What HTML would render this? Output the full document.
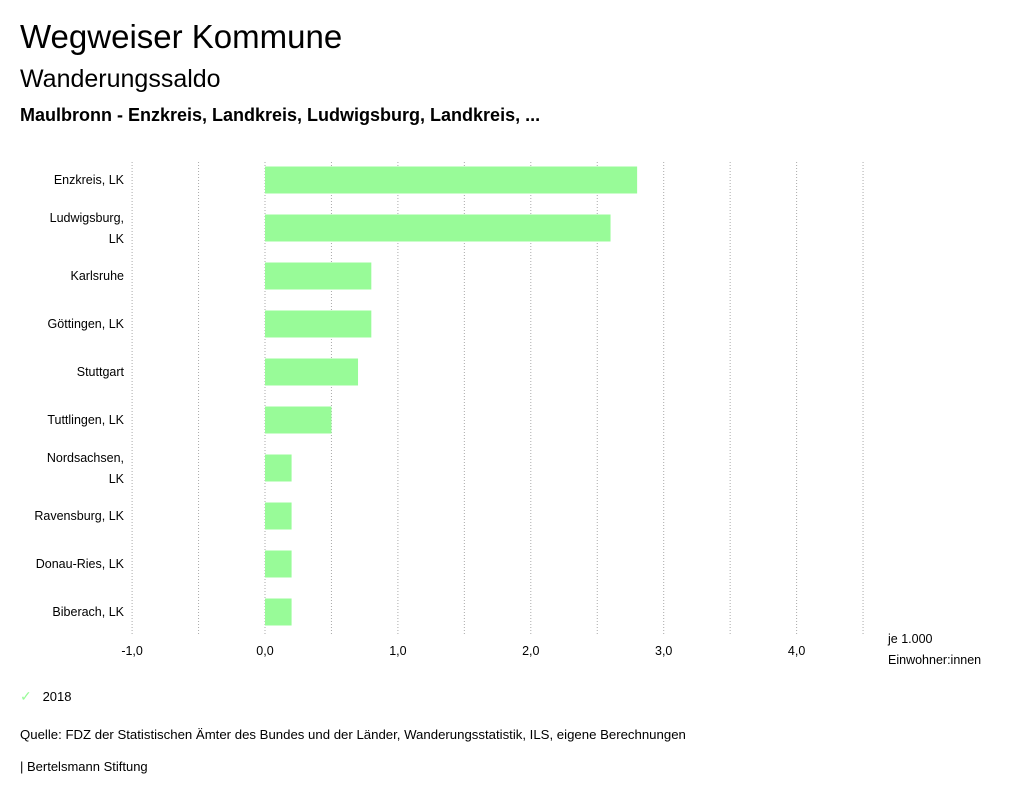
<!DOCTYPE html>
<html><head><meta charset="utf-8">
<style>
body{margin:0;background:#fff;font-family:"Liberation Sans",sans-serif;color:#000;}
#wrap{position:relative;width:1024px;height:799px;overflow:hidden;}
.t{position:absolute;white-space:nowrap;}
</style></head>
<body>
<div id="wrap">
<div class="t" style="left:20px;top:18px;font-size:33px;">Wegweiser Kommune</div>
<div class="t" style="left:20px;top:65px;font-size:25px;">Wanderungssaldo</div>
<div class="t" style="left:20px;top:105px;font-size:18px;font-weight:bold;">Maulbronn - Enzkreis, Landkreis, Ludwigsburg, Landkreis, ...</div>
<svg id="chart" width="1024" height="799" style="position:absolute;left:0;top:0"></svg>
<div class="t" style="left:20px;top:688px;font-size:13px;"><span style="color:#98FB98;font-size:14px;">✓</span>&nbsp;&nbsp;&nbsp;2018</div>
<div class="t" style="left:20px;top:727px;font-size:13.2px;">Quelle: FDZ der Statistischen Ämter des Bundes und der Länder, Wanderungsstatistik, ILS, eigene Berechnungen</div>
<div class="t" style="left:20px;top:759px;font-size:13px;">| Bertelsmann Stiftung</div>
</div>
<script>
const categories=[["Enzkreis, LK"],["Ludwigsburg,","LK"],["Karlsruhe"],["Göttingen, LK"],["Stuttgart"],["Tuttlingen, LK"],["Nordsachsen,","LK"],["Ravensburg, LK"],["Donau-Ries, LK"],["Biberach, LK"]];
const values2018=[2.8,2.6,0.8,0.8,0.7,0.5,0.2,0.2,0.2,0.2];
const tickValues=[-1,0,1,2,3,4];
const tickLabels=["-1,0","0,0","1,0","2,0","3,0","4,0"];
const gridValues=[-1,-0.5,0,0.5,1,1.5,2,2.5,3,3.5,4,4.5];
const NS="http://www.w3.org/2000/svg";
const svg=document.getElementById('chart');
const x=v=>265+v*132.9;
const top0=156, band=48;
const y=i=>top0+i*band;
function mk(t,a){const e=document.createElementNS(NS,t);for(const k in a)e.setAttribute(k,a[k]);svg.appendChild(e);return e;}
gridValues.forEach(g=>{
  const l=mk('line',{x1:x(g),x2:x(g),y1:162,y2:636,stroke:'#aaa','stroke-width':1,'stroke-dasharray':'1,2'});
  
  
});
tickValues.forEach((v,i)=>{
  const t=mk('text',{x:x(v),y:655,'text-anchor':'middle','font-size':12.5,'font-family':'Liberation Sans, sans-serif'});
  t.textContent=tickLabels[i];
  
  
});
categories.forEach((c,i)=>{
  const cy=y(i)+band/2;
  const r=mk('rect',{x:x(Math.min(0,values2018[i])),y:cy-13.5,width:Math.abs(x(values2018[i])-x(0)),height:27,fill:'#98FB98'});
  
  
  const t=mk('text',{x:124,'text-anchor':'end','font-size':12.5,'font-family':'Liberation Sans, sans-serif'});
  
  
  c.forEach((line,j)=>{
    const ts=document.createElementNS(NS,'tspan');
    ts.setAttribute('x',124);
    ts.setAttribute('y',c.length===1?cy+4:cy-6+j*21);
    ts.textContent=line;t.appendChild(ts);
  });
});
const u=mk('text',{x:888,y:643,'font-size':12.5,'font-family':'Liberation Sans, sans-serif'});


['je 1.000','Einwohner:innen'].forEach((s,j)=>{const ts=document.createElementNS(NS,'tspan');ts.setAttribute('x',888);ts.setAttribute('y',643+j*21);ts.textContent=s;u.appendChild(ts);});
</script>
</body></html>
